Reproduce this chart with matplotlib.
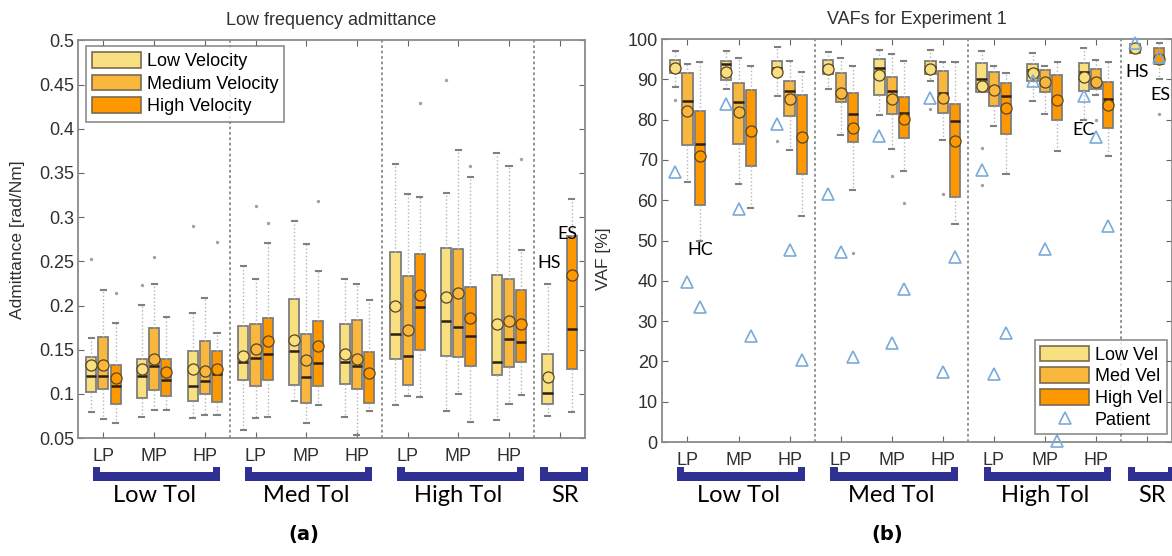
import numpy as np
import matplotlib
matplotlib.use("Agg")
import matplotlib.pyplot as plt
import matplotlib.transforms as mtransforms
from matplotlib.patches import Patch, Polygon
from matplotlib.lines import Line2D

nan = np.nan

# ---- data -------------------------------------------------------------
vel_names = ["Low Velocity", "Medium Velocity", "High Velocity"]
vel_short = ["Low Vel", "Med Vel", "High Vel"]
pos_labels = ["LP", "MP", "HP", "LP", "MP", "HP", "LP", "MP", "HP", ""]
groups = ["Low Tol", "Med Tol", "High Tol", "SR"]
group_span = [(1, 3), (4, 6), (7, 9), (10, 10)]

# (a) admittance, rows = low / medium / high velocity, cols = positions 1..10
adm_q1 = [[0.102, 0.095, 0.092, 0.116, 0.110, 0.111, 0.140, 0.143, 0.121, 0.088],
          [0.105, 0.104, 0.100, 0.109, 0.090, 0.105, 0.110, 0.142, 0.130, nan],
          [0.089, 0.097, 0.091, 0.116, 0.109, 0.090, 0.150, 0.132, 0.136, 0.128]]
adm_med = [[0.120, 0.120, 0.109, 0.136, 0.149, 0.136, 0.168, 0.183, 0.136, 0.101],
           [0.120, 0.132, 0.115, 0.141, 0.119, 0.131, 0.143, 0.176, 0.162, nan],
           [0.109, 0.116, 0.122, 0.145, 0.135, 0.122, 0.198, 0.165, 0.159, 0.173]]
adm_q3 = [[0.142, 0.139, 0.149, 0.177, 0.207, 0.179, 0.261, 0.265, 0.235, 0.145],
          [0.164, 0.174, 0.160, 0.179, 0.168, 0.184, 0.233, 0.264, 0.230, nan],
          [0.133, 0.139, 0.149, 0.186, 0.182, 0.147, 0.258, 0.221, 0.218, 0.279]]
adm_lo = [[0.079, 0.074, 0.073, 0.059, 0.092, 0.074, 0.087, 0.081, 0.070, 0.075],
          [0.071, 0.082, 0.076, 0.073, 0.067, 0.053, 0.097, 0.100, 0.089, nan],
          [0.067, 0.082, 0.076, 0.074, 0.087, 0.081, 0.096, 0.068, 0.099, 0.079]]
adm_hi = [[0.163, 0.201, 0.192, 0.245, 0.296, 0.230, 0.360, 0.327, 0.373, 0.224],
          [0.218, 0.224, 0.209, 0.230, 0.270, 0.224, 0.326, 0.376, 0.358, nan],
          [0.180, 0.187, 0.169, 0.271, 0.239, 0.206, 0.323, 0.346, 0.263, 0.320]]
adm_mean = [[0.133, 0.128, 0.128, 0.143, 0.161, 0.145, 0.200, 0.210, 0.179, 0.119],
            [0.133, 0.139, 0.126, 0.151, 0.138, 0.139, 0.172, 0.214, 0.183, nan],
            [0.118, 0.125, 0.128, 0.160, 0.154, 0.124, 0.212, 0.186, 0.179, 0.234]]
adm_out_pos = [1, 1, 2, 2, 3, 3, 4, 4, 5, 7, 8, 8, 9]
adm_out_vel = [0, 2, 0, 1, 0, 2, 1, 2, 2, 2, 0, 2, 2]
adm_out_val = [0.253, 0.214, 0.223, 0.255, 0.290, 0.272, 0.313, 0.293, 0.318,
               0.429, 0.455, 0.358, 0.366]

# (b) VAF [%]
vaf_q1 = [[91.6, 89.8, 91.2, 91.3, 86.1, 91.3, 86.8, 89.5, 87.2, 96.6],
          [73.8, 74.0, 81.0, 84.3, 81.3, 81.7, 83.3, 86.9, 87.7, nan],
          [58.8, 68.5, 66.4, 74.4, 75.4, 60.7, 76.5, 79.8, 77.8, 93.9]]
vaf_med = [[93.3, 93.7, 92.9, 93.4, 92.9, 93.0, 90.0, 92.3, 91.9, 97.8],
           [84.6, 84.3, 87.1, 86.9, 87.1, 86.7, 88.0, 89.6, 89.8, nan],
           [74.0, 77.5, 76.0, 81.3, 81.7, 79.6, 85.8, 84.5, 85.0, 95.4]]
vaf_q3 = [[94.9, 94.6, 94.5, 94.8, 95.1, 94.6, 94.1, 93.8, 94.1, 98.7],
          [91.6, 89.1, 89.5, 91.6, 90.5, 92.1, 91.9, 92.3, 92.6, nan],
          [82.1, 87.3, 86.2, 86.5, 85.6, 84.0, 89.0, 91.0, 89.3, 97.7]]
vaf_lo = [[88.0, 87.5, 85.8, 87.7, 81.1, 89.5, 86.8, 84.6, 80.0, 96.6],
          [64.6, 64.1, 72.4, 76.1, 72.6, 75.0, 78.3, 81.5, 86.1, nan],
          [50.0, 58.0, 56.0, 62.6, 67.2, 54.1, 66.4, 72.1, 70.9, 90.2]]
vaf_hi = [[97.1, 97.0, 97.9, 96.7, 97.4, 97.4, 97.0, 96.6, 97.7, 98.7],
          [93.9, 95.4, 94.6, 95.4, 96.4, 94.4, 93.3, 93.3, 94.8, nan],
          [94.4, 93.3, 91.8, 93.3, 94.5, 94.2, 91.6, 94.2, 94.4, 99.1]]
vaf_mean = [[92.9, 91.9, 91.8, 92.5, 91.0, 92.5, 88.3, 91.6, 90.5, 97.7],
            [82.1, 81.9, 85.1, 86.7, 85.0, 85.4, 87.3, 89.4, 89.4, nan],
            [71.0, 77.3, 75.7, 78.0, 80.1, 74.7, 83.0, 84.8, 83.6, 95.0]]
vaf_patient = [[67.0, 84.0, 78.8, 61.6, 75.9, 85.4, 67.4, 89.5, 85.8, 98.9],
               [39.6, 57.7, 47.6, 47.1, 24.5, 17.4, 16.9, 47.9, 75.7, nan],
               [33.4, 26.3, 20.3, 21.2, 38.0, 45.9, 27.0, 0.3, 53.7, 95.6]]
vaf_out_pos = [1, 3, 4, 5, 5, 6, 6, 7, 7, 9, 10]
vaf_out_vel = [0, 0, 2, 1, 2, 0, 1, 0, 0, 1, 2]
vaf_out_val = [84.8, 74.8, 46.9, 66.1, 59.3, 82.7, 61.6, 72.9, 63.8, 79.8, 81.4]

# ---- style --------------------------------------------------------------
colors = ["#f8df80", "#f9b83d", "#fe9800"]
offs = [-0.24, 0.0, 0.24]
edge = "#7d7d7d"
navy = "#2e3192"
tri_col = "#7aaad9"
plt.rcParams["font.family"] = ["Liberation Sans", "DejaVu Sans"]

fig = plt.figure(figsize=(11.72, 5.56), dpi=100)
ax1 = fig.add_axes([0.0666, 0.2122, 0.4326, 0.7150])
ax2 = fig.add_axes([0.5648, 0.2050, 0.4356, 0.7248])


def draw_boxes(ax, q1, med, q3, lo, hi, mean):
    for v in range(3):
        stats, pos = [], []
        for i in range(10):
            if np.isnan(med[v][i]):
                continue
            stats.append(dict(med=med[v][i], q1=q1[v][i], q3=q3[v][i],
                              whislo=lo[v][i], whishi=hi[v][i],
                              mean=mean[v][i], fliers=[]))
            pos.append(i + 1 + offs[v])
        bp = ax.bxp(stats, positions=pos, widths=0.2, patch_artist=True,
                    showmeans=True, showfliers=False, capwidths=0.1,
                    boxprops=dict(edgecolor=edge, linewidth=1.3),
                    medianprops=dict(color="#2a1f10", linewidth=1.8),
                    whiskerprops=dict(color="#b5b5b5", linestyle=":", linewidth=1),
                    capprops=dict(color="#808080", linewidth=1.5),
                    meanprops=dict(marker="o", markersize=8,
                                   markerfacecolor=colors[v],
                                   markeredgecolor="#5a4520",
                                   markeredgewidth=0.9))
        for b in bp["boxes"]:
            b.set_facecolor(colors[v])


def style_axis(ax, title, ylabel, lab_xy):
    ax.set_xlim(0.5, 10.5)
    ax.set_xticks(np.arange(1, 11))
    ax.set_xticklabels(pos_labels)
    ax.tick_params(direction="in", top=True, right=True, length=4,
                   color="#666666", labelcolor="#303030", labelsize=13)
    ax.tick_params(axis="x", pad=7)
    ax.tick_params(axis="y", pad=3)
    for s in ax.spines.values():
        s.set_color("#8a8a8a")
        s.set_linewidth(1.3)
    for xv in (3.5, 6.5, 9.5):
        ax.axvline(xv, color="#8a8a8a", linestyle=(0, (1.5, 1.5)), lw=1.3, zorder=0)
    ax.set_title(title, fontsize=13, color="#303030", pad=11)
    ax.set_ylabel(ylabel, fontsize=12.5, color="#303030")
    ax.yaxis.set_label_coords(*lab_xy)
    # group brackets below the axis
    tr = mtransforms.blended_transform_factory(ax.transData, fig.transFigure)
    ew = 0.14
    for name, (a, b) in zip(groups, group_span):
        x0 = a - 0.2
        x1 = b + 0.3
        if a == b:
            x0 = a - 0.38
            x1 = b + 0.56
        pts = [(x0, 0.1595), (x0 + ew, 0.1595), (x0 + ew, 0.1516),
               (x1 - ew, 0.1516), (x1 - ew, 0.1595), (x1, 0.1595),
               (x1, 0.1354), (x0, 0.1354)]
        ax.add_patch(Polygon(pts, closed=True, facecolor=navy, edgecolor="none",
                             transform=tr, clip_on=False))
        xc = (a + b) / 2 + (0.1 if a == b else 0.0)
        ax.text(xc, 0.097, name, transform=tr, ha="center", va="baseline",
                fontsize=17, family="Lato", color="black")


# ---- (a) ---------------------------------------------------------------
draw_boxes(ax1, adm_q1, adm_med, adm_q3, adm_lo, adm_hi, adm_mean)
ax1.scatter(np.array(adm_out_pos) + np.array(offs)[adm_out_vel], adm_out_val,
            s=2, color="#a0a0a0", zorder=3)
ax1.set_ylim(0.05, 0.5)
ax1.set_yticks(np.arange(0.05, 0.501, 0.05))
ax1.set_yticklabels(["0.05", "0.1", "0.15", "0.2", "0.25", "0.3", "0.35",
                     "0.4", "0.45", "0.5"])
style_axis(ax1, "Low frequency admittance", "Admittance [rad/Nm]", (-0.104, 0.5))
ax1.text(9.79, 0.248, "HS", fontsize=13, family="Lato", ha="center", va="center")
ax1.text(10.16, 0.281, "ES", fontsize=13, family="Lato", ha="center", va="center")
h1 = [Patch(facecolor=colors[v], edgecolor="#7a6a50", lw=1.2, label=vel_names[v])
      for v in range(3)]
lg1 = ax1.legend(handles=h1, loc="upper left", bbox_to_anchor=(0.016, 0.986),
                 borderaxespad=0, fontsize=13, fancybox=False, edgecolor="#707070",
                 handlelength=2.7, handleheight=0.95, labelspacing=0.25,
                 handletextpad=0.3, borderpad=0.35)
lg1.get_frame().set_linewidth(1.2)

# ---- (b) ---------------------------------------------------------------
draw_boxes(ax2, vaf_q1, vaf_med, vaf_q3, vaf_lo, vaf_hi, vaf_mean)
ax2.scatter(np.array(vaf_out_pos) + np.array(offs)[vaf_out_vel], vaf_out_val,
            s=2, color="#a0a0a0", zorder=3)
for v in range(3):
    ax2.plot(np.arange(1, 11) + offs[v], vaf_patient[v], "^", ls="none",
             mfc="none", mec=tri_col, ms=8, mew=1.2, clip_on=False, zorder=5)
ax2.set_ylim(0, 100)
ax2.set_yticks(np.arange(0, 101, 10))
style_axis(ax2, "VAFs for Experiment 1", "VAF [%]", (-0.1, 0.455))
ax2.text(1.245, 47.6, "HC", fontsize=13, family="Lato", ha="center", va="center")
ax2.text(9.81, 91.8, "HS", fontsize=13, family="Lato", ha="center", va="center")
ax2.text(10.26, 86.1, "ES", fontsize=13, family="Lato", ha="center", va="center")
ax2.text(8.75, 77.4, "EC", fontsize=13, family="Lato", ha="center", va="center")
h2 = [Patch(facecolor=colors[v], edgecolor="#7a6a50", lw=1.2, label=vel_short[v])
      for v in range(3)]
h2.append(Line2D([], [], marker="^", ls="none", mfc="none", mec=tri_col, ms=8,
                 mew=1.2, label="Patient"))
lg2 = ax2.legend(handles=h2, loc="lower right", bbox_to_anchor=(0.99, 0.02),
                 borderaxespad=0, fontsize=13, fancybox=False, edgecolor="#707070",
                 handlelength=2.7, handleheight=0.95, labelspacing=0.2,
                 handletextpad=0.3, borderpad=0.3)
lg2.get_frame().set_linewidth(1.2)

fig.text(0.259, 0.038, "(a)", fontsize=14, fontweight="bold",
         family="DejaVu Sans", ha="center", va="center")
fig.text(0.757, 0.038, "(b)", fontsize=14, fontweight="bold",
         family="DejaVu Sans", ha="center", va="center")

fig.savefig("out.png", dpi=100)
